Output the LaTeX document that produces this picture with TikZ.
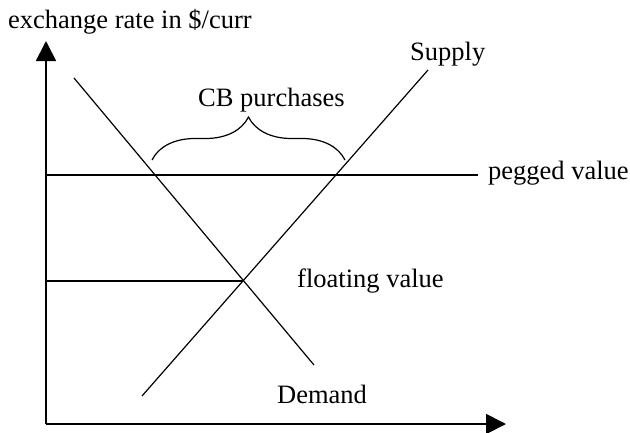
\documentclass[tikz,border=0pt]{standalone}
\usepackage{fontspec}
\setmainfont{Liberation Serif}
\usetikzlibrary{arrows.meta,decorations.pathreplacing}
\begin{document}
\begin{tikzpicture}[x=1pt,y=-1pt,
  lbl/.style={font=\fontsize{26.5}{30}\selectfont, inner sep=0pt},
  axis/.style={line width=1.8pt,-{Triangle[length=20pt,width=20pt]}},
  curve/.style={line width=1.2pt},
  bracestyle/.style={line width=1.2pt,decorate,decoration={brace,amplitude=43pt}}]
\useasboundingbox (0,0) rectangle (630,432);
% axes
\coordinate (O) at (46,424);
\coordinate (ytop) at (46,41);
\coordinate (xend) at (506,424);
\draw[axis] (O) -- (ytop);
\draw[axis] (O) -- (xend);
% curves
\coordinate (d1) at (74,78);
\coordinate (d2) at (314,365);
\coordinate (s1) at (142,396);
\coordinate (s2) at (428,70);
\coordinate (eq) at (243,281);
\draw[curve] (d1) -- (d2);
\draw[curve] (s1) -- (s2);
% pegged and floating
\coordinate (p1) at (46,175);
\coordinate (p2) at (478,175);
\coordinate (f1) at (46,281);
\draw[curve] (p1) -- (p2);
\draw[curve] (f1) -- (eq);
% brace
\coordinate (b1) at (152,160);
\coordinate (b2) at (345,160);
\draw[bracestyle] (b1) -- (b2);
% labels
\node[lbl,anchor=base west] (ylab) at (8,28) {exchange rate in \$/curr};
\node[lbl,anchor=base west] (cb) at (198,106) {CB purchases};
\node[lbl,anchor=base west] (peg) at (488,179) {pegged value};
\node[lbl,anchor=base west] (flo) at (297,287) {floating value};
\node[lbl,anchor=base west] (dem) at (277,403) {Demand};
\node[lbl,anchor=base west] (sup) at (410,60) {Supply};
\end{tikzpicture}
\end{document}
